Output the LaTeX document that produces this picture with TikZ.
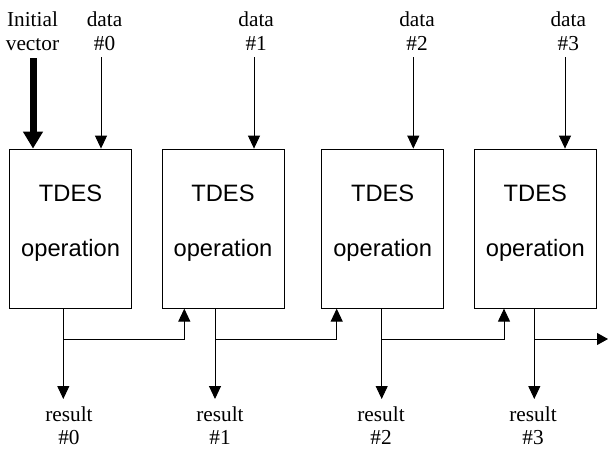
\documentclass[tikz,border=0pt]{standalone}
\usepackage{fontspec}
\setmainfont{Liberation Serif}
\newfontfamily\boxfont{Liberation Sans}
\usetikzlibrary{arrows.meta}
\begin{document}
\begin{tikzpicture}[x=1pt,y=-1pt,
  line width=1pt,
  opbox/.style={draw, line width=1pt, minimum width=122pt, minimum height=159pt, inner sep=0pt},
  optext/.style={font=\boxfont\fontsize{23.7pt}{55pt}\selectfont, align=center, anchor=base, inner sep=0pt},
  lab/.style={font=\fontsize{21.3pt}{24pt}\selectfont, align=center, anchor=base, inner sep=0pt},
  thin arr/.style={-{Triangle[length=13pt,width=12pt]}},
  thick arr/.style={line width=7pt, -{Triangle[length=17pt,width=19pt]}}
]
\useasboundingbox (0,0) rectangle (608,448);

% boxes
\node[opbox] (b1) at (70.6,228.6) {};
\node[opbox] (b2) at (223,228.6) {};
\node[opbox] (b3) at (382.7,228.6) {};
\node[opbox] (b4) at (535.3,228.6) {};

% box texts (base anchor = baseline of last line)
\foreach \i/\x in {1/70.6, 2/223, 3/382.7, 4/535.3}{
  \node[optext] (t\i) at (\x,256) {TDES\\operation};
}

% top labels
\node[lab] (iv) at (32.5,50.7) {Initial\\vector};
\node[lab] (d0) at (104.5,50.7) {data\\\#0};
\node[lab] (d1) at (256.2,50.7) {data\\\#1};
\node[lab] (d2) at (417,50.7) {data\\\#2};
\node[lab] (d3) at (568.3,50.7) {data\\\#3};

% input arrow start points
\coordinate (ivs) at (33,58.3);
\coordinate (s0) at (101,57.3);
\coordinate (s1) at (254,57.3);
\coordinate (s2) at (413.3,57.3);
\coordinate (s3) at (565,57.3);

\draw[thick arr] (ivs) -- (ivs |- b1.north);
\draw[thin arr] (s0) -- (s0 |- b1.north);
\draw[thin arr] (s1) -- (s1 |- b2.north);
\draw[thin arr] (s2) -- (s2 |- b3.north);
\draw[thin arr] (s3) -- (s3 |- b4.north);

% outputs
\coordinate (o1) at (63.3,339);
\coordinate (o2) at (215,339);
\coordinate (o3) at (381.7,339);
\coordinate (o4) at (534.3,339);
\coordinate (i2) at (184.3,339);
\coordinate (i3) at (336.7,339);
\coordinate (i4) at (504,339);
\coordinate (r1) at (63.3,399);
\coordinate (r2) at (215,399);
\coordinate (r3) at (381.7,399);
\coordinate (r4) at (534.3,399);
\coordinate (out) at (608,339);

\draw[thin arr] (o1 |- b1.south) -- (r1);
\draw[thin arr] (o2 |- b2.south) -- (r2);
\draw[thin arr] (o3 |- b3.south) -- (r3);
\draw[thin arr] (o4 |- b4.south) -- (r4);

\draw[thin arr] (o1) -- (i2) -- (i2 |- b2.south);
\draw[thin arr] (o2) -- (i3) -- (i3 |- b3.south);
\draw[thin arr] (o3) -- (i4) -- (i4 |- b4.south);
\draw[-{Triangle[length=11pt,width=12pt]}] (o4) -- (out);

% result labels
\node[lab, font=\fontsize{21.3pt}{23pt}\selectfont] (res0) at (69,444) {result\\\#0};
\node[lab, font=\fontsize{21.3pt}{23pt}\selectfont] (res1) at (220,444) {result\\\#1};
\node[lab, font=\fontsize{21.3pt}{23pt}\selectfont] (res2) at (381,444) {result\\\#2};
\node[lab, font=\fontsize{21.3pt}{23pt}\selectfont] (res3) at (533,444) {result\\\#3};
\end{tikzpicture}
\end{document}
